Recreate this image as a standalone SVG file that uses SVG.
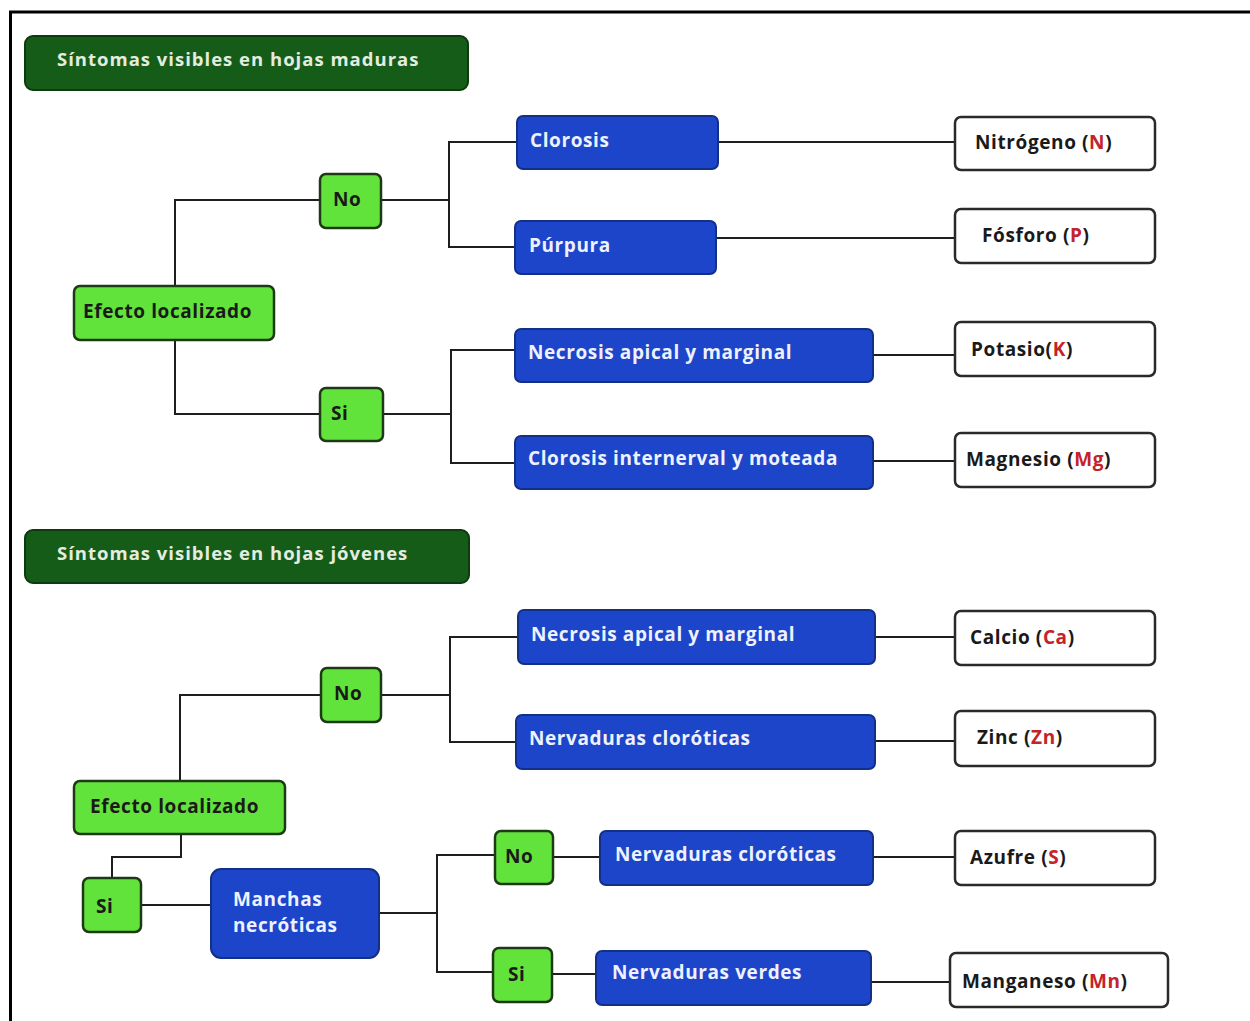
<svg xmlns="http://www.w3.org/2000/svg" width="1250" height="1021" viewBox="0 0 1250 1021">
<style>
.hdr{fill:#145c17;stroke:#0d3a0f;stroke-width:2}
.g{fill:#62e33b;stroke:#1e3a14;stroke-width:2.5}
.b{fill:#1c45c9;stroke:#142f86;stroke-width:2}
.w{fill:#ffffff;stroke:#2a2a2a;stroke-width:2.5}
.t{font-family:"Open Sans","Liberation Sans",Arial,sans-serif;font-weight:bold;font-size:19px;letter-spacing:0.6px}
.tw{fill:#eef1ff}
.th{fill:#e4ece0;font-size:18.5px;letter-spacing:1px}
.tk{fill:#1a1a1a}
.r{fill:#c3232b}
.c{fill:none;stroke:#1e1e1e;stroke-width:2}
</style>
<rect width="1250" height="1021" fill="#ffffff"/>
<path d="M10.5,1021 V12 H1250" fill="none" stroke="#000" stroke-width="3"/>

<g id="connectors">
<path class="c" d="M175,286 V200 H320"/>
<path class="c" d="M175,340 V414 H320"/>
<path class="c" d="M381,200 H449"/>
<path class="c" d="M517,142 H449 V247 H515"/>
<path class="c" d="M383,414 H451"/>
<path class="c" d="M515,350 H451 V463 H515"/>
<path class="c" d="M718,142 H955"/>
<path class="c" d="M716,238 H955"/>
<path class="c" d="M873,355 H955"/>
<path class="c" d="M873,461 H955"/>
<path class="c" d="M180,781 V695 H321"/>
<path class="c" d="M381,695 H450"/>
<path class="c" d="M518,637 H450 V742 H516"/>
<path class="c" d="M875,637 H955"/>
<path class="c" d="M875,741 H955"/>
<path class="c" d="M181,834 V857 H112 V878"/>
<path class="c" d="M141,905 H211"/>
<path class="c" d="M379,913 H437"/>
<path class="c" d="M495,855 H437 V972 H493"/>
<path class="c" d="M553,857 H600"/>
<path class="c" d="M552,974 H596"/>
<path class="c" d="M873,857 H955"/>
<path class="c" d="M871,982 H950"/>
</g>

<g id="header1"><rect class="hdr" x="25" y="36" width="443" height="54" rx="8"/><text class="t th" x="57" y="66">Síntomas visibles en hojas maduras</text></g>
<g id="header2"><rect class="hdr" x="25" y="530" width="444" height="53" rx="8"/><text class="t th" x="57" y="560">Síntomas visibles en hojas jóvenes</text></g>

<g id="efecto1"><rect class="g" x="74" y="286" width="200" height="54" rx="6"/><text class="t tk" x="83" y="318">Efecto localizado</text></g>
<g id="no1"><rect class="g" x="320" y="174" width="61" height="54" rx="6"/><text class="t tk" x="333" y="206">No</text></g>
<g id="si1"><rect class="g" x="320" y="388" width="63" height="53" rx="6"/><text class="t tk" x="331" y="420">Si</text></g>

<g id="clorosis"><rect class="b" x="517" y="116" width="201" height="53" rx="6"/><text class="t tw" x="530" y="147">Clorosis</text></g>
<g id="purpura"><rect class="b" x="515" y="221" width="201" height="53" rx="6"/><text class="t tw" x="529" y="252">Púrpura</text></g>
<g id="necrosis1"><rect class="b" x="515" y="329" width="358" height="53" rx="6"/><text class="t tw" x="528" y="359">Necrosis apical y marginal</text></g>
<g id="clorosisint"><rect class="b" x="515" y="436" width="358" height="53" rx="6"/><text class="t tw" x="528" y="465">Clorosis internerval y moteada</text></g>

<g id="nitrogeno"><rect class="w" x="955" y="117" width="200" height="53" rx="6"/><text class="t tk" x="975" y="149">Nitrógeno (<tspan class="r">N</tspan>)</text></g>
<g id="fosforo"><rect class="w" x="955" y="209" width="200" height="54" rx="6"/><text class="t tk" x="982" y="242">Fósforo (<tspan class="r">P</tspan>)</text></g>
<g id="potasio"><rect class="w" x="955" y="322" width="200" height="54" rx="6"/><text class="t tk" x="971" y="356">Potasio(<tspan class="r">K</tspan>)</text></g>
<g id="magnesio"><rect class="w" x="955" y="433" width="200" height="54" rx="6"/><text class="t tk" x="966" y="466">Magnesio (<tspan class="r">Mg</tspan>)</text></g>

<g id="efecto2"><rect class="g" x="74" y="781" width="211" height="53" rx="6"/><text class="t tk" x="90" y="813">Efecto localizado</text></g>
<g id="no2"><rect class="g" x="321" y="668" width="60" height="54" rx="6"/><text class="t tk" x="334" y="700">No</text></g>
<g id="si2"><rect class="g" x="83" y="878" width="58" height="54" rx="6"/><text class="t tk" x="96" y="913">Si</text></g>
<g id="manchas"><rect class="b" x="211" y="869" width="168" height="89" rx="10"/><text class="t tw" x="233" y="906">Manchas</text><text class="t tw" x="233" y="932">necróticas</text></g>

<g id="necrosis2"><rect class="b" x="518" y="610" width="357" height="54" rx="6"/><text class="t tw" x="531" y="641">Necrosis apical y marginal</text></g>
<g id="nervaduras1"><rect class="b" x="516" y="715" width="359" height="54" rx="6"/><text class="t tw" x="529" y="745">Nervaduras cloróticas</text></g>
<g id="no3"><rect class="g" x="495" y="831" width="58" height="53" rx="6"/><text class="t tk" x="505" y="863">No</text></g>
<g id="si3"><rect class="g" x="493" y="948" width="59" height="54" rx="6"/><text class="t tk" x="508" y="981">Si</text></g>
<g id="nervaduras2"><rect class="b" x="600" y="831" width="273" height="54" rx="6"/><text class="t tw" x="615" y="861">Nervaduras cloróticas</text></g>
<g id="nervverdes"><rect class="b" x="596" y="951" width="275" height="54" rx="6"/><text class="t tw" x="612" y="979">Nervaduras verdes</text></g>

<g id="calcio"><rect class="w" x="955" y="611" width="200" height="54" rx="6"/><text class="t tk" x="970" y="644">Calcio (<tspan class="r">Ca</tspan>)</text></g>
<g id="zinc"><rect class="w" x="955" y="711" width="200" height="55" rx="6"/><text class="t tk" x="977" y="744">Zinc (<tspan class="r">Zn</tspan>)</text></g>
<g id="azufre"><rect class="w" x="955" y="831" width="200" height="54" rx="6"/><text class="t tk" x="970" y="864">Azufre (<tspan class="r">S</tspan>)</text></g>
<g id="manganeso"><rect class="w" x="950" y="953" width="218" height="54" rx="6"/><text class="t tk" x="962" y="988">Manganeso (<tspan class="r">Mn</tspan>)</text></g>
</svg>
